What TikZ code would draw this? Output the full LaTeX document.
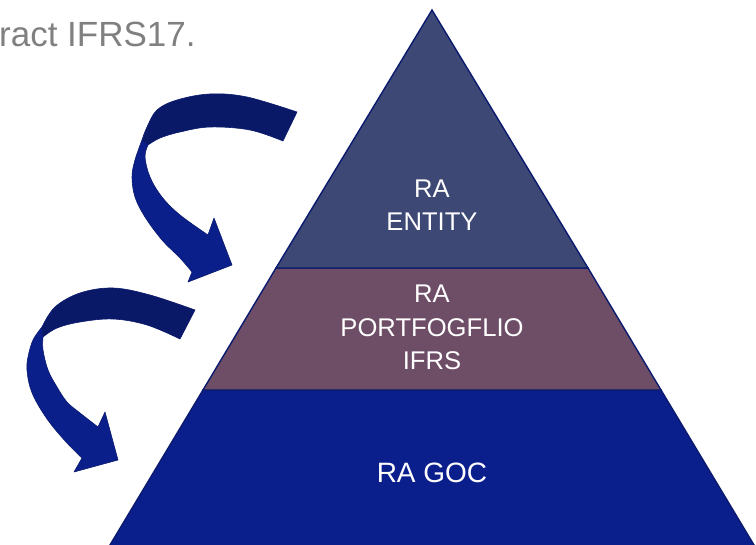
\documentclass[tikz,border=0pt]{standalone}
\usepackage{fontspec}
\setmainfont{Liberation Sans}
\begin{document}
\definecolor{tierTop}{HTML}{3D4874}
\definecolor{tierMid}{HTML}{6E4D66}
\definecolor{tierBase}{HTML}{0B1F8C}
\definecolor{edgeNavy}{HTML}{0A1A6E}
\definecolor{arrowDark}{HTML}{0A1868}
\definecolor{arrowLight}{HTML}{0B1F8B}
\definecolor{captionGray}{HTML}{808080}
\tikzset{
  tier/.style={draw=edgeNavy, line width=1.4pt, line join=miter},
  tierlabel/.style={text=white, align=center, inner sep=0pt,
    font=\fontsize{25.6}{33.5}\selectfont},
  ribbon/.style={draw=edgeNavy, line width=0.6pt, line join=round},
}
\begin{tikzpicture}[x=1pt,y=-1pt]
\useasboundingbox (0,0) rectangle (756,545);
\clip (0,0) rectangle (756,545);

% caption
\node[anchor=base west, inner sep=0pt, text=captionGray,
      font=\fontsize{35}{40}\selectfont] (caption) at (-1,46.7) {ract IFRS17.};

% pyramid corners
\coordinate (apex) at (432,10);
\coordinate (tl) at (276,268);  \coordinate (tr) at (588,268);
\coordinate (ml) at (203,390);  \coordinate (mr) at (661,390);
\coordinate (bl) at (107,550);  \coordinate (br) at (757,550);

% tiers
\filldraw[tier, fill=tierBase] (ml) -- (mr) -- (br) -- (bl) -- cycle;
\filldraw[tier, fill=tierMid] (tl) -- (tr) -- (mr) -- (ml) -- cycle;
\filldraw[tier, fill=tierTop] (apex) -- (tr) -- (tl) -- cycle;

% tier labels
\node[tierlabel] (entity) at (432,205) {RA\\ENTITY};
\node[tierlabel] (portfolio) at (432,327.8) {RA\\PORTFOGFLIO\\IFRS};
\node[tierlabel, font=\fontsize{28}{33.5}\selectfont, anchor=base] (goc) at (432,483) {RA GOC};

% upper curved arrow: lower (lighter) part with head
\filldraw[ribbon, fill=arrowLight]
  plot[smooth, tension=0.6] coordinates {(142,140) (135,160) (132,177) (135,197) (145,217) (162,240) (180,258) (192,272)}
  -- (188,282) -- (232,265) -- (214,218) -- (208,235)
  -- plot[smooth, tension=0.6] coordinates {(208,235) (180,215) (162,197) (150,177) (145,157) (148,145)}
  -- cycle;
% upper curved arrow: tail (darker) part
\filldraw[ribbon, fill=arrowDark]
  plot[smooth, tension=0.6] coordinates {(297,112) (247,97) (210,94) (177,100) (157,110) (147,127) (142,140)}
  -- (148,145)
  -- plot[smooth, tension=0.6] coordinates {(148,145) (160,138) (180,132) (210,127) (250,130) (283,141)}
  -- cycle;

% lower curved arrow: lower (lighter) part with head
\filldraw[ribbon, fill=arrowLight]
  plot[smooth, tension=0.6] coordinates {(42,327) (33,340) (28,357) (27,370) (30,387) (37,403) (50,423) (67,443) (82,458)}
  -- (74,472) -- (118,460) -- (105,412) -- (98,427)
  -- plot[smooth, tension=0.6] coordinates {(98,427) (80,413) (67,402) (57,387) (48,370) (43,350) (43,337)}
  -- cycle;
% lower curved arrow: tail (darker) part
\filldraw[ribbon, fill=arrowDark]
  plot[smooth, tension=0.6] coordinates {(195,310) (150,295) (113,288) (80,293) (55,307) (42,327)}
  -- (43,337)
  -- plot[smooth, tension=0.6] coordinates {(43,337) (57,328) (80,322) (113,319) (147,325) (180,339)}
  -- cycle;
\end{tikzpicture}
\end{document}
